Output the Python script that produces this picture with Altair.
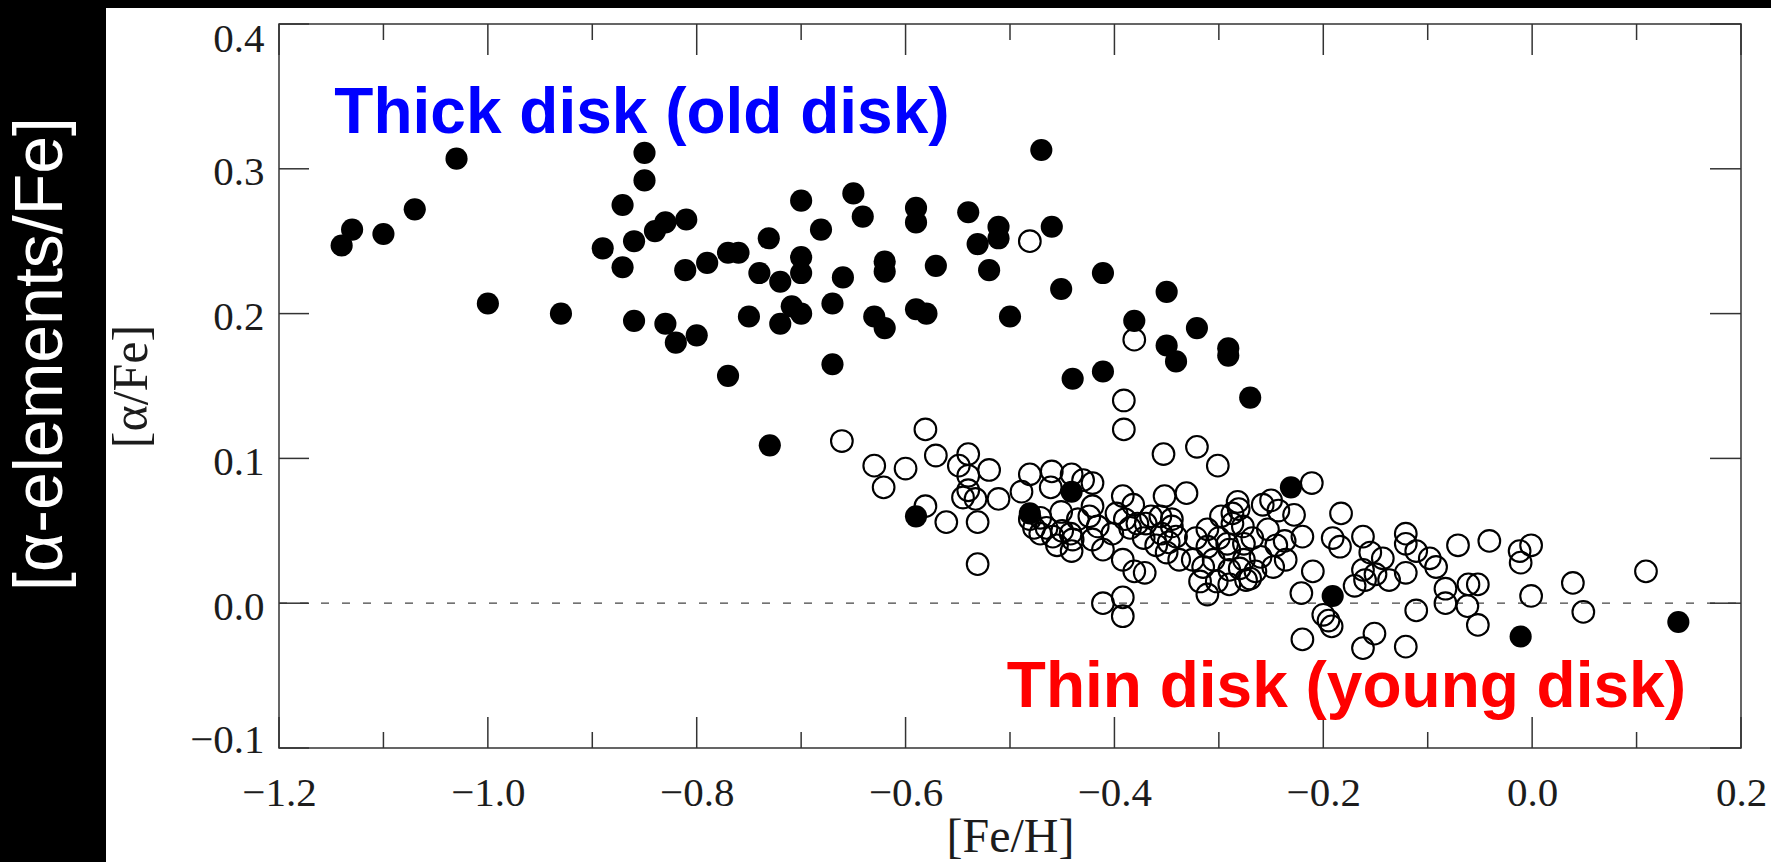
import altair as alt
import pandas as pd

# Thick-disk stars (filled symbols): [Fe/H] and [alpha/Fe]
thick_feh = [
    -1.140, -1.130, -1.100, -1.070, -1.030, -1.000, -0.930, -0.890, -0.871, -0.871,
    -0.860, -0.860, -0.850, -0.850, -0.840, -0.830, -0.830, -0.820, -0.810, -0.811,
    -0.800, -0.790, -0.770, -0.760, -0.770, -0.750, -0.740, -0.731, -0.730, -0.720,
    -0.720, -0.709, -0.700, -0.700, -0.700, -0.700, -0.681, -0.670, -0.670, -0.660,
    -0.650, -0.641, -0.630, -0.620, -0.620, -0.620, -0.590, -0.590, -0.590, -0.580,
    -0.571, -0.590, -0.540, -0.531, -0.520, -0.511, -0.511, -0.500, -0.470, -0.460,
    -0.451, -0.440, -0.411, -0.411, -0.381, -0.350, -0.350, -0.341, -0.321, -0.291,
    -0.291, -0.270, -0.481, -0.441, -0.231, -0.191, -0.011, 0.140,
]
thick_alpha = [
    0.247, 0.258, 0.255, 0.272, 0.307, 0.207, 0.200, 0.245, 0.275, 0.232,
    0.250, 0.195, 0.311, 0.292, 0.257, 0.263, 0.193, 0.180, 0.265, 0.230,
    0.185, 0.235, 0.242, 0.242, 0.157, 0.198, 0.228, 0.252, 0.109, 0.222,
    0.193, 0.205, 0.278, 0.239, 0.228, 0.200, 0.258, 0.207, 0.165, 0.225,
    0.283, 0.267, 0.198, 0.236, 0.229, 0.190, 0.273, 0.263, 0.203, 0.200,
    0.233, 0.060, 0.270, 0.248, 0.230, 0.260, 0.252, 0.198, 0.313, 0.260,
    0.217, 0.155, 0.228, 0.160, 0.195, 0.215, 0.178, 0.167, 0.190, 0.176,
    0.171, 0.142, 0.062, 0.077, 0.080, 0.005, -0.023, -0.013,
]

# Thin-disk stars (open symbols): [Fe/H] and [alpha/Fe]
thin_feh = [
    -0.661, -0.630, -0.621, -0.600, -0.581, -0.571, -0.581, -0.561, -0.549, -0.540,
    -0.540, -0.540, -0.533, -0.545, -0.531, -0.531, -0.520, -0.511,
    -0.489, -0.481, -0.481, -0.471, -0.471, -0.460, -0.461, -0.459, -0.451, -0.450,
    -0.441, -0.442, -0.441, -0.440, -0.430, -0.421, -0.421, -0.424, -0.421, -0.416,
    -0.411, -0.411, -0.481, -0.477, -0.465, -0.455, -0.435, -0.402, -0.398,
    -0.391, -0.391, -0.381, -0.392, -0.382, -0.390, -0.385, -0.378, -0.392, -0.381,
    -0.371, -0.392, -0.392, -0.370, -0.353, -0.352, -0.331, -0.356, -0.345, -0.355,
    -0.345, -0.360, -0.341, -0.350, -0.321, -0.322, -0.311, -0.311, -0.318, -0.311,
    -0.305, -0.301, -0.300, -0.372, -0.365, -0.348, -0.338, -0.325, -0.315, -0.302,
    -0.287, -0.282, -0.281, -0.287, -0.292, -0.290, -0.290, -0.290, -0.277, -0.276,
    -0.276, -0.270, -0.274, -0.258, -0.250, -0.243, -0.253, -0.260, -0.237, -0.236,
    -0.228, -0.220, -0.221, -0.220, -0.211, -0.210, -0.298, -0.268, -0.265, -0.248,
    -0.245, -0.280,
    -0.200, -0.192, -0.195, -0.191, -0.184, -0.183, -0.170, -0.162, -0.162, -0.160,
    -0.155, -0.143, -0.150, -0.137, -0.151, -0.162, -0.121, -0.121, -0.121, -0.121,
    -0.111, -0.111, -0.098, -0.092, -0.083, -0.083, -0.071, -0.061, -0.052, -0.062,
    -0.052, -0.041, -0.012, -0.001, -0.011, -0.001, 0.039, 0.049, 0.109,
]
thin_alpha = [
    0.112, 0.095, 0.080, 0.093, 0.120, 0.102, 0.067, 0.056, 0.095, 0.103,
    0.088, 0.078, 0.072, 0.073, 0.056, 0.027, 0.092, 0.072,
    0.077, 0.089, 0.058, 0.048, 0.059, 0.091, 0.080, 0.046, 0.063, 0.050,
    0.089, 0.048, 0.036, 0.044, 0.085, 0.083, 0.067, 0.060, 0.044, 0.053,
    0.037, 0.000, 0.250, 0.052, 0.052, 0.040, 0.058, 0.048, 0.062,
    0.140, 0.120, 0.182, 0.074, 0.068, 0.058, 0.052, 0.055, 0.030, 0.022,
    0.021, 0.004, -0.009, 0.055, 0.103, 0.074, 0.076, 0.060, 0.058, 0.048,
    0.053, 0.040, 0.046, 0.035, 0.108, 0.045, 0.051, 0.039, 0.015, 0.006,
    0.030, 0.095, 0.045, 0.045, 0.060, 0.042, 0.030, 0.030, 0.025, 0.015,
    0.062, 0.070, 0.065, 0.055, 0.041, 0.037, 0.023, 0.013, 0.053, 0.041,
    0.030, 0.017, 0.016, 0.068, 0.071, 0.064, 0.051, 0.032, 0.043, 0.030,
    0.061, 0.046, 0.007, -0.025, 0.083, 0.022, 0.060, 0.045, 0.022, 0.025,
    0.040, 0.024,
    -0.008, -0.016, -0.012, 0.045, 0.039, 0.062, 0.012, 0.046, 0.023, 0.016,
    0.035, 0.031, 0.020, 0.016, -0.021, -0.031, 0.048, 0.041, 0.021, -0.030,
    0.036, -0.005, 0.031, 0.025, 0.010, 0.000, 0.040, 0.013, 0.013, -0.002,
    -0.015, 0.043, 0.036, 0.040, 0.028, 0.005, 0.014, -0.006, 0.022,
]

# Axis ticks
x_major = [-1.2, -1.0, -0.8, -0.6, -0.4, -0.2, 0.0, 0.2]
x_minor = [-1.1, -0.9, -0.7, -0.5, -0.3, -0.1, 0.1]
y_major = [-0.1, 0.0, 0.1, 0.2, 0.3, 0.4]

W, H = 1462, 724
PAD_L, PAD_T, PAD_R, PAD_B = 279, 24, 30, 114
INK = "#1c1c1c"
SERIF = "Liberation Serif"

thick = pd.DataFrame({"feh": thick_feh, "alpha": thick_alpha})
thin = pd.DataFrame({"feh": thin_feh, "alpha": thin_alpha})
xmaj = pd.DataFrame({"feh": x_major})
xmin = pd.DataFrame({"feh": x_minor})
ymaj = pd.DataFrame({"alpha": y_major})
zero = pd.DataFrame({"alpha": [0.0]})
one = alt.Data(values=[{}])

xscale = alt.Scale(domain=[-1.2, 0.2], nice=False, zero=False)
yscale = alt.Scale(domain=[-0.1, 0.4], nice=False, zero=False)

xaxis = alt.Axis(
    values=x_major, format=".1f", title="[Fe/H]",
    domain=False, ticks=False, grid=False, labelFlush=False,
    labelFont=SERIF, labelFontSize=41, labelColor=INK, labelPadding=25,
    titleFont=SERIF, titleFontSize=48, titleFontWeight="normal", titleColor=INK,
    titleBaseline="alphabetic", titleY=103,
)
yaxis = alt.Axis(
    values=y_major, format=".1f", title="[α/Fe]",
    domain=False, ticks=False, grid=False,
    labelFont=SERIF, labelFontSize=41, labelColor=INK, labelPadding=15,
    labelOffset={"condition": [{"test": "datum.value >= 0.35", "value": 15},
                               {"test": "datum.value <= -0.05", "value": -8}],
                 "value": 4},
    titleFont=SERIF, titleFontSize=50, titleFontWeight="normal", titleColor=INK,
    titleAngle=270, titleBaseline="alphabetic", titleX=-133,
)


def X(field):
    return alt.X(f"{field}:Q", scale=xscale, axis=xaxis)


def Y(field):
    return alt.Y(f"{field}:Q", scale=yscale, axis=yaxis)


# Black side strip with the slide's own vertical label
strip = alt.Chart(one).mark_rect(color="black").encode(
    x=alt.value(-PAD_L), x2=alt.value(106 - PAD_L),
    y=alt.value(-PAD_T), y2=alt.value(H + PAD_B),
)
band = alt.Chart(one).mark_rect(color="black").encode(
    x=alt.value(-PAD_L), x2=alt.value(W + PAD_R),
    y=alt.value(-PAD_T), y2=alt.value(8 - PAD_T),
)
strip_label = alt.Chart(one).mark_text(
    text="[α-elements/Fe]", angle=270, font="Liberation Sans", fontSize=68,
    color="white", align="center", baseline="alphabetic",
).encode(x=alt.value(62 - PAD_L), y=alt.value(330))

# Solar-ratio reference line
zero_line = alt.Chart(zero).mark_rule(
    color="#444444", strokeWidth=1.3, strokeDash=[8, 13]
).encode(y=Y("alpha"), x=alt.value(0), x2=alt.value(W))

# Inward-pointing ticks on all four sides of the frame
tick_style = dict(color="#333333", strokeWidth=1.5)
bottom_major = alt.Chart(xmaj).mark_rule(**tick_style).encode(
    x=X("feh"), y=alt.value(H - 31), y2=alt.value(H))
bottom_minor = alt.Chart(xmin).mark_rule(**tick_style).encode(
    x=X("feh"), y=alt.value(H - 16), y2=alt.value(H))
top_major = alt.Chart(xmaj).mark_rule(**tick_style).encode(
    x=X("feh"), y=alt.value(0), y2=alt.value(31))
top_minor = alt.Chart(xmin).mark_rule(**tick_style).encode(
    x=X("feh"), y=alt.value(0), y2=alt.value(16))
left_major = alt.Chart(ymaj).mark_rule(**tick_style).encode(
    y=Y("alpha"), x=alt.value(0), x2=alt.value(30))
right_major = alt.Chart(ymaj).mark_rule(**tick_style).encode(
    y=Y("alpha"), x=alt.value(W - 31), x2=alt.value(W))

# Stars
thin_pts = alt.Chart(thin).mark_point(
    shape="circle", filled=False, size=470, strokeWidth=2.1,
    color="black", opacity=1,
).encode(x=X("feh"), y=Y("alpha"))
thick_pts = alt.Chart(thick).mark_circle(
    size=490, color="black", opacity=1
).encode(x=X("feh"), y=Y("alpha"))

# Population labels
thick_label = alt.Chart(one).mark_text(
    text="Thick disk (old disk)", font="Liberation Sans", fontWeight="bold",
    fontSize=64, color="#0000FF", align="left", baseline="alphabetic",
).encode(x=alt.X(datum=-1.147, scale=xscale, axis=xaxis),
         y=alt.Y(datum=0.325, scale=yscale, axis=yaxis))
thin_label = alt.Chart(one).mark_text(
    text="Thin disk (young disk)", font="Liberation Sans", fontWeight="bold",
    fontSize=64, color="#FF0000", align="left", baseline="alphabetic",
).encode(x=alt.X(datum=-0.503, scale=xscale, axis=xaxis),
         y=alt.Y(datum=-0.0715, scale=yscale, axis=yaxis))

chart = alt.layer(
    strip, band, strip_label, zero_line,
    bottom_major, bottom_minor, top_major, top_minor, left_major, right_major,
    thin_pts, thick_pts, thick_label, thin_label,
).properties(
    width=W, height=H,
    padding={"left": PAD_L, "top": PAD_T, "right": PAD_R, "bottom": PAD_B},
    autosize=alt.AutoSizeParams(type="none"),
).configure(
    background="white",
).configure_view(
    stroke="#333333", strokeWidth=1.5,
)

chart.save("out.html", embed_options={"renderer": "svg", "actions": False})
